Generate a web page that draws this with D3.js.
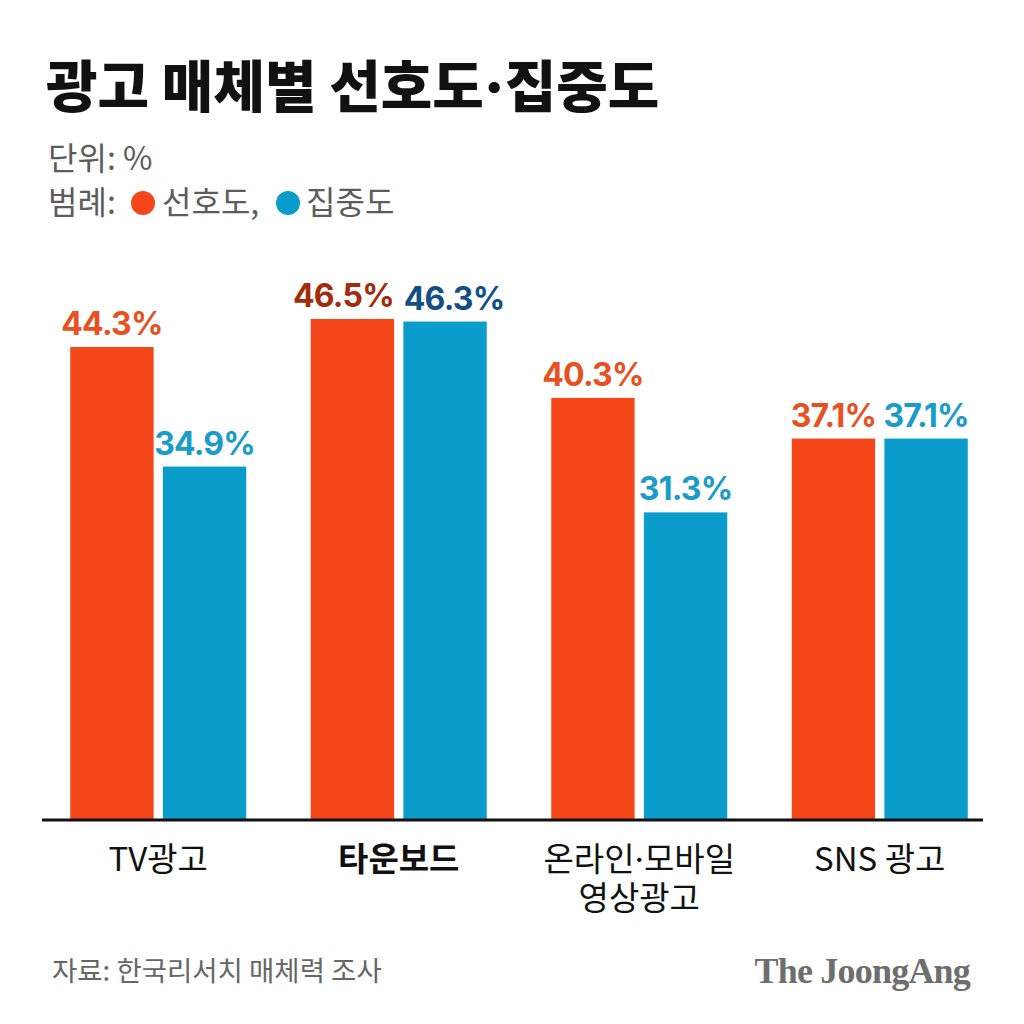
<!DOCTYPE html>
<html>
<head>
<meta charset="utf-8">
<script src="https://cdn.jsdelivr.net/npm/d3@7"></script>
<style>
  body { margin: 0; background: #fff; }
  svg { display: block; }
</style>
</head>
<body>
<div id="chart"></div>
<script>
// data
const categories = ['TV광고', '타운보드', '온라인·모바일\n영상광고', 'SNS 광고'];
const seriesNames = ['선호도', '집중도'];
const preference = [44.3, 46.5, 40.3, 37.1];
const concentration = [34.9, 46.3, 31.3, 37.1];
const highlighted = '타운보드';

const config = {
    width: 1024,
    height: 1024,
    baseline: 819,
    top: 319,
    colors: { '선호도': '#f5461a', '집중도': '#0a9cca' },
    labelColors: { '선호도': '#e8511f', '집중도': '#1a9bc8' },
    highlightLabelColors: { '선호도': '#a32a0c', '집중도': '#114f85' }
};

const kr = '"Noto Sans CJK KR", "Noto Sans", sans-serif';

// the CJK font draws '·' full width; use a latin font for it so it stays narrow
function appendTextWithDot(sel, str) {
    str.split('·').forEach((part, i) => {
        if (i > 0) {
            sel.append('tspan').style('font-family', 'Inter, Roboto, sans-serif').text('·');
        }
        sel.append('tspan').text(part);
    });
}

const svg = d3.select('#chart')
    .append('svg')
    .attr('width', config.width)
    .attr('height', config.height);

// title + unit + legend
let title = svg.append('text')
    .attr('x', 46)
    .attr('y', 107)
    .style('font-family', kr)
    .style('font-weight', 900)
    .style('font-size', '56px')
    .style('fill', '#111');
appendTextWithDot(title, '광고 매체별 선호도·집중도');

svg.append('text')
    .attr('x', 48)
    .attr('y', 170)
    .style('font-family', kr)
    .style('font-size', '32px')
    .style('fill', '#5c5c5c')
    .text('단위: %');

let legend = svg.append('g')
    .attr('transform', 'translate(48, 214)')
    .style('font-family', kr)
    .style('font-size', '32px')
    .style('fill', '#5c5c5c');

legend.append('text').attr('x', 0).attr('y', 0).text('범례:');
legend.append('circle').attr('cx', 95).attr('cy', -11).attr('r', 12).attr('fill', config.colors['선호도']);
legend.append('text').attr('x', 114).attr('y', 0).text('선호도,');
legend.append('circle').attr('cx', 240).attr('cy', -11).attr('r', 12).attr('fill', config.colors['집중도']);
legend.append('text').attr('x', 258).attr('y', 0).text('집중도');

// scales
const x = d3.scaleBand()
    .domain(categories)
    .range([38, 1000])
    .padding(0);

const xInner = d3.scaleBand()
    .domain(seriesNames)
    .range([-88, 88])
    .paddingInner(0.1);

// axis does not start at zero in the original graphic
const y = d3.scaleLinear()
    .domain([7.2, 46.5])
    .range([config.baseline, config.top]);

const rows = categories.map((c, i) => ({
    category: c,
    values: [
        { series: '선호도', value: preference[i] },
        { series: '집중도', value: concentration[i] }
    ]
}));

let groups = svg.selectAll('.group')
    .data(rows)
    .enter()
    .append('g')
    .attr('class', 'group')
    .attr('transform', (d) => `translate(${x(d.category) + x.bandwidth() / 2}, 0)`);

groups.selectAll('rect')
    .data((d) => d.values)
    .enter()
    .append('rect')
    .attr('x', (d) => xInner(d.series))
    .attr('width', xInner.bandwidth())
    .attr('y', (d) => y(d.value))
    .attr('height', (d) => config.baseline - y(d.value))
    .attr('fill', (d) => config.colors[d.series]);

// labels of the two tall bars are pushed apart a little so they don't touch
groups.selectAll('.value-label')
    .data((d) => d.values.map((v) => ({ ...v, category: d.category })))
    .enter()
    .append('text')
    .attr('class', 'value-label')
    .attr('x', (d) => {
        let nudge = d.category === highlighted ? (d.series === '선호도' ? -9 : 9) : 0;
        return xInner(d.series) + xInner.bandwidth() / 2 + nudge;
    })
    .attr('y', (d) => y(d.value) - 12)
    .attr('text-anchor', 'middle')
    .style('font-family', 'Inter, Roboto, sans-serif')
    .style('font-weight', 700)
    .style('font-size', '32px')
    .style('letter-spacing', '-0.8px')
    .style('fill', (d) => d.category === highlighted
        ? config.highlightLabelColors[d.series]
        : config.labelColors[d.series])
    .text((d) => d.value.toFixed(1) + '%');

// baseline
svg.append('line')
    .attr('x1', 42)
    .attr('x2', 983)
    .attr('y1', config.baseline + 1)
    .attr('y2', config.baseline + 1)
    .attr('stroke', '#111')
    .attr('stroke-width', 3);

// category labels, may be two lines
groups.each(function (d) {
    d.category.split('\n').forEach((line, i) => {
        let t = d3.select(this)
            .append('text')
            .attr('class', 'cat-label')
            .attr('x', 0)
            .attr('y', 871 + i * 39)
            .attr('text-anchor', 'middle')
            .style('font-family', kr)
            .style('font-size', '33px')
            .style('font-weight', d.category === highlighted ? 700 : 400)
            .style('fill', '#111');
        appendTextWithDot(t, line);
    });
});

// footer
svg.append('text')
    .attr('x', 52)
    .attr('y', 981)
    .style('font-family', kr)
    .style('font-size', '27.5px')
    .style('fill', '#666')
    .text('자료: 한국리서치 매체력 조사');

svg.append('text')
    .attr('x', 970)
    .attr('y', 983)
    .attr('text-anchor', 'end')
    .style('font-family', '"Liberation Serif", "DejaVu Serif", serif')
    .style('font-weight', 700)
    .style('font-size', '36px')
    .style('letter-spacing', '-0.8px')
    .style('fill', '#6e6e6e')
    .text('The JoongAng');
</script>
</body>
</html>
